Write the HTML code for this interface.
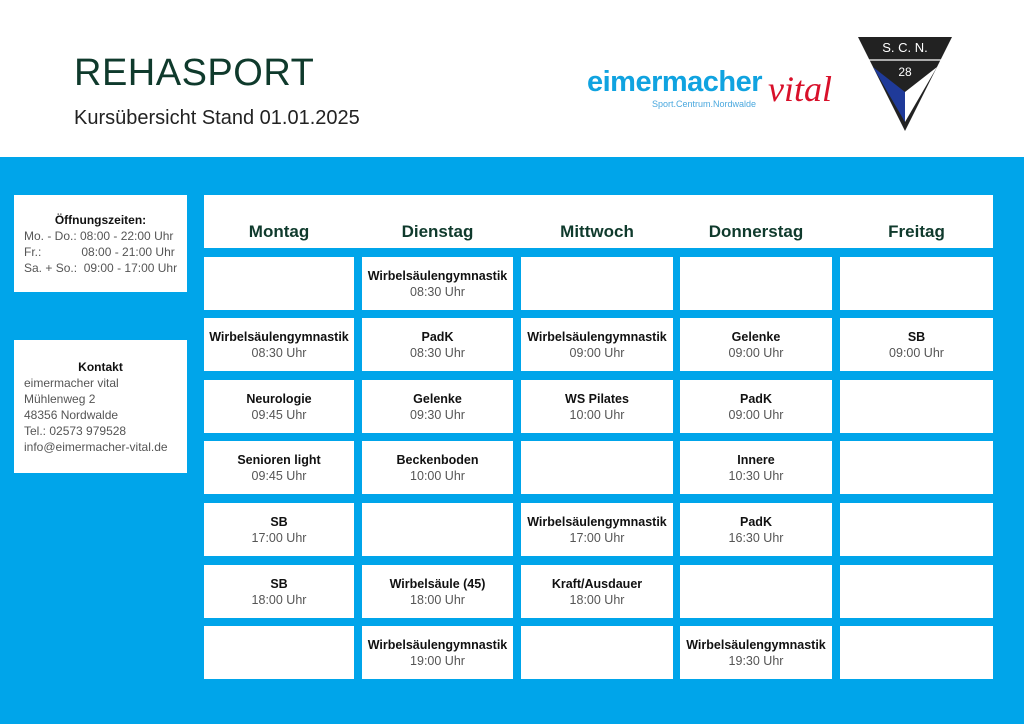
<!DOCTYPE html>
<html><head><meta charset="utf-8"><style>
*{margin:0;padding:0;box-sizing:border-box}
body{width:1024px;height:724px;position:relative;background:#fff;font-family:"Liberation Sans",sans-serif;overflow:hidden}
.blue{position:absolute;left:0;top:157px;width:1024px;height:567px;background:#00a5ea}
.w{position:absolute;background:#fff}
.c{position:absolute;background:#fff;text-align:center;display:flex;flex-direction:column;justify-content:center;font-size:12.5px;color:#555;line-height:16px}
.c b{color:#111;font-weight:bold;font-size:12.5px}
.h{position:absolute;top:222px;font-size:17px;font-weight:bold;color:#0f3a2c;text-align:center}
.info{font-size:12px;color:#555;line-height:16px}
</style></head><body>
<div style="position:absolute;left:74px;top:52px;font-size:38px;color:#0f3a2c;letter-spacing:0.5px">REHASPORT</div>
<div style="position:absolute;left:74px;top:107px;font-size:20px;color:#222">Kursübersicht Stand 01.01.2025</div>
<div style="position:absolute;left:587px;top:66px;font-size:29px;font-weight:bold;color:#10a3e0;letter-spacing:-0.5px">eimermacher</div>
<div style="position:absolute;left:652px;top:99px;font-size:9px;color:#4aa8de">Sport.Centrum.Nordwalde</div>
<div style="position:absolute;left:768px;top:68px;font-size:36px;font-style:italic;color:#d8102a;font-family:'Liberation Serif',serif">vital</div>
<svg style="position:absolute;left:856px;top:35px" width="98" height="98" viewBox="0 0 98 98">
<polygon points="2,2 96,2 49,96" fill="#222"/>
<polygon points="17,32 49,57 49,87" fill="#1f3a99"/>
<polygon points="81,32 49,57 49,87" fill="#fff"/>
<line x1="12" y1="25" x2="86" y2="25" stroke="#fff" stroke-width="1.2"/>
<text x="49" y="17" fill="#fff" font-size="13" text-anchor="middle" font-family="Liberation Sans">S. C. N.</text>
<text x="49" y="41" fill="#fff" font-size="12" text-anchor="middle" font-family="Liberation Sans">28</text>
</svg>
<div class="blue"></div>
<div class="w info" style="left:14px;top:195px;width:173px;height:97px;padding:17px 0 0 10px">
<div style="text-align:center;font-weight:bold;color:#111;padding-right:10px">Öffnungszeiten:</div>
Mo. - Do.: 08:00 - 22:00 Uhr<br>Fr.:&nbsp;&nbsp;&nbsp;&nbsp;&nbsp;&nbsp;&nbsp;&nbsp;&nbsp;&nbsp;&nbsp;&nbsp;08:00 - 21:00 Uhr<br>Sa. + So.:&nbsp; 09:00 - 17:00 Uhr</div>
<div class="w info" style="left:14px;top:340px;width:173px;height:133px;padding:19px 0 0 10px">
<div style="text-align:center;font-weight:bold;color:#111;padding-right:10px">Kontakt</div>
eimermacher vital<br>Mühlenweg 2<br>48356 Nordwalde<br>Tel.: 02573 979528<br>info@eimermacher-vital.de</div>
<div class="w" style="left:204px;top:195px;width:789px;height:53px"></div>
<div class="h" style="left:204px;width:150px">Montag</div>
<div class="h" style="left:362px;width:151px">Dienstag</div>
<div class="h" style="left:521px;width:152px">Mittwoch</div>
<div class="h" style="left:680px;width:152px">Donnerstag</div>
<div class="h" style="left:840px;width:153px">Freitag</div>
<div id="g"></div>
<script>
var xs=[[204,150],[362,151],[521,152],[680,152],[840,153]];
var ys=[257,318,380,441,503,565,626];
var d=[
["","Wirbelsäulengymnastik|08:30 Uhr","","",""],
["Wirbelsäulengymnastik|08:30 Uhr","PadK|08:30 Uhr","Wirbelsäulengymnastik|09:00 Uhr","Gelenke|09:00 Uhr","SB|09:00 Uhr"],
["Neurologie|09:45 Uhr","Gelenke|09:30 Uhr","WS Pilates|10:00 Uhr","PadK|09:00 Uhr",""],
["Senioren light|09:45 Uhr","Beckenboden|10:00 Uhr","","Innere|10:30 Uhr",""],
["SB|17:00 Uhr","","Wirbelsäulengymnastik|17:00 Uhr","PadK|16:30 Uhr",""],
["SB|18:00 Uhr","Wirbelsäule (45)|18:00 Uhr","Kraft/Ausdauer|18:00 Uhr","",""],
["","Wirbelsäulengymnastik|19:00 Uhr","","Wirbelsäulengymnastik|19:30 Uhr",""]];
var h="";
for(var r=0;r<7;r++)for(var c=0;c<5;c++){var t=d[r][c],inner="";if(t){var p=t.split("|");inner="<b>"+p[0]+"</b>"+p[1];}
h+='<div class="c" style="left:'+xs[c][0]+'px;top:'+ys[r]+'px;width:'+xs[c][1]+'px;height:53px">'+inner+'</div>';}
document.getElementById("g").innerHTML=h;
</script>
</body></html>
